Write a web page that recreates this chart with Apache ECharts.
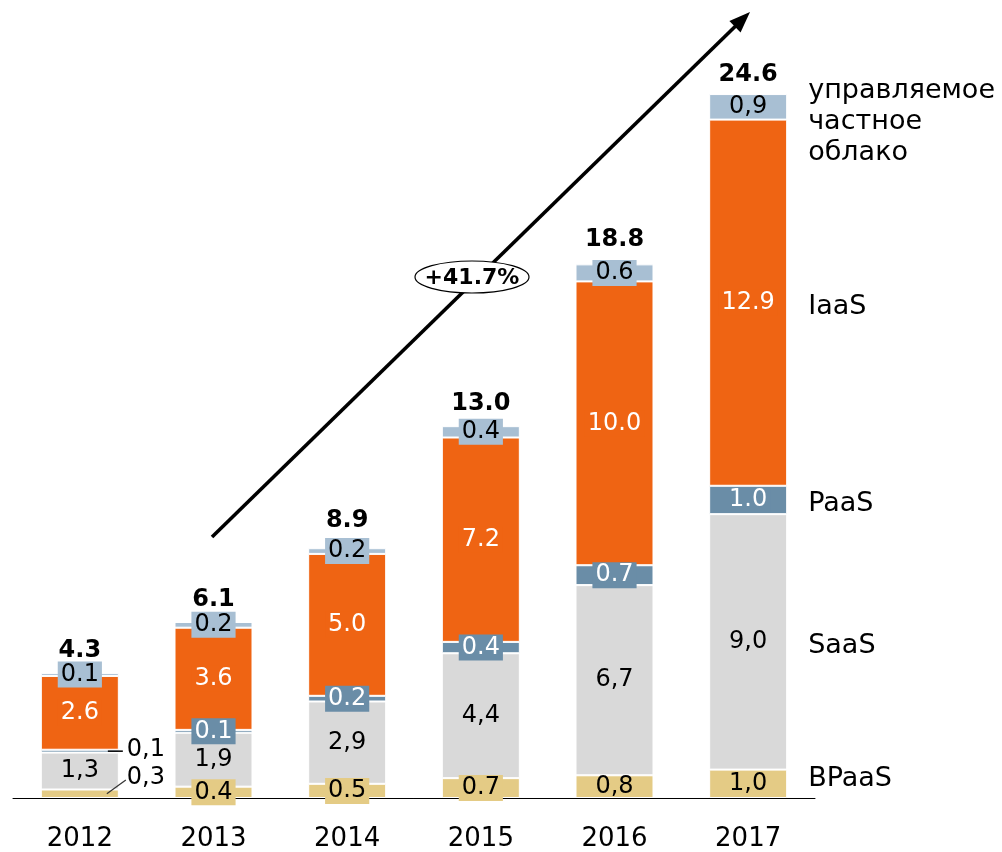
<!DOCTYPE html>
<html>
<head>
<meta charset="utf-8">
<script src="https://cdn.jsdelivr.net/npm/echarts@6/dist/echarts.min.js"></script>
<style>
  html, body { margin: 0; padding: 0; background: #fff; }
  #main { width: 1002px; height: 852px; }
</style>
</head>
<body>
<div id="main"></div>
<script>
var FONT = '"DejaVu Sans", "Liberation Sans", Arial, sans-serif';

var years = ['2012', '2013', '2014', '2015', '2016', '2017'];
var bpaas = [0.3, 0.4, 0.5, 0.7, 0.8, 1.0];
var saas = [1.3, 1.9, 2.9, 4.4, 6.7, 9.0];
var paas = [0.1, 0.1, 0.2, 0.4, 0.7, 1.0];
var iaas = [2.6, 3.6, 5.0, 7.2, 10.0, 12.9];
var managed = [0.1, 0.2, 0.2, 0.4, 0.6, 0.9];
var totals = [4.3, 6.1, 8.9, 13.0, 18.8, 24.6];

// labels as printed on the slide (decimal separator is mixed there)
var bpaasText = ['0,3', '0.4', '0.5', '0.7', '0,8', '1,0'];
var saasText = ['1,3', '1,9', '2,9', '4,4', '6,7', '9,0'];
var paasText = ['0,1', '0.1', '0.2', '0.4', '0.7', '1.0'];
var iaasText = ['2.6', '3.6', '5.0', '7.2', '10.0', '12.9'];
var managedText = ['0.1', '0.2', '0.2', '0.4', '0.6', '0,9'];
var totalText = ['4.3', '6.1', '8.9', '13.0', '18.8', '24.6'];
var growthText = '+41.7%';

var names = ['BPaaS', 'SaaS', 'PaaS', 'IaaS', 'управляемое\nчастное\nоблако'];
var colors = ['#e4cb85', '#d9d9d9', '#6a8da7', '#ef6413', '#a8bfd3'];
var textColors = ['#000', '#000', '#fff', '#fff', '#000'];

function makeItems(values, texts, color) {
  return values.map(function (v, i) {
    // the slide only boxes the labels written with a dot
    var boxed = texts[i].indexOf('.') >= 0;
    return {
      value: v,
      label: { formatter: texts[i], backgroundColor: boxed ? color : 'transparent' }
    };
  });
}

var valueSets = [bpaas, saas, paas, iaas, managed];
var textSets = [bpaasText, saasText, paasText, iaasText, managedText];

var series = valueSets.map(function (vals, k) {
  return {
    name: names[k],
    type: 'bar',
    stack: 'total',
    barWidth: 78,
    itemStyle: { color: colors[k], borderColor: '#fff', borderWidth: 1 },
    label: {
      show: true,
      position: 'inside',
      color: textColors[k],
      fontFamily: FONT,
      fontSize: 24,
      lineHeight: 23,
      padding: [2, 3, 1, 3]
    },
    data: makeItems(vals, textSets[k], colors[k])
  };
});

// 2012: the two thin segments are labelled outside the bar
series[0].data[0].label = {
  formatter: bpaasText[0], position: 'right', distance: 8, offset: [0, -16],
  backgroundColor: 'transparent', padding: 0, color: '#000'
};
series[2].data[0].label = {
  formatter: paasText[0], position: 'right', distance: 8, offset: [0, -1],
  backgroundColor: 'transparent', padding: 0, color: '#000'
};

// totals above the bars
series.push({
  type: 'scatter',
  silent: true,
  symbolSize: 0,
  itemStyle: { color: '#000', opacity: 1 },
  label: {
    show: true,
    position: 'top',
    distance: 13,
    fontFamily: FONT,
    fontSize: 24,
    fontWeight: 'bold',
    color: '#000',
    formatter: function (p) { return totalText[p.dataIndex]; }
  },
  z: 5,
  data: totals
});

var chart = echarts.init(document.getElementById('main'));
chart.setOption({
  animation: false,
  grid: { left: 13, right: 187, top: 60, bottom: 52 },
  xAxis: {
    type: 'category',
    data: years,
    axisTick: { show: false },
    axisLine: { lineStyle: { color: '#000', width: 1 } },
    axisLabel: { color: '#000', fontFamily: FONT, fontSize: 26, margin: 28 }
  },
  yAxis: { type: 'value', min: 0, max: 26, show: false, splitLine: { show: false } },
  series: series
});

// side labels next to the 2017 bar, leader lines of 2012, trend arrow, growth bubble
var last = years.length - 1;
var graphics = [];
var cum = 0;
var offs = [-5, 4, 4, 4, 0];
for (var k = 0; k < valueSets.length; k++) {
  var lo = cum, hi = cum + valueSets[k][last];
  cum = hi;
  var pLo = chart.convertToPixel({ gridIndex: 0 }, [last, lo]);
  var pHi = chart.convertToPixel({ gridIndex: 0 }, [last, hi]);
  var isTop = k === valueSets.length - 1;
  graphics.push({
    type: 'text',
    x: pLo[0] + 39 + 21,
    y: isTop ? pHi[1] - 19 : (pLo[1] + pHi[1]) / 2 + offs[k],
    style: {
      text: names[k],
      fill: '#000',
      font: '27px ' + FONT,
      lineHeight: 31,
      align: 'left',
      verticalAlign: isTop ? 'top' : 'middle'
    }
  });
}

var b0 = chart.convertToPixel({ gridIndex: 0 }, [0, 0]);
var bTop = chart.convertToPixel({ gridIndex: 0 }, [0, bpaas[0]]);
var pMid = chart.convertToPixel({ gridIndex: 0 }, [0, bpaas[0] + saas[0] + paas[0] / 2]);
var right0 = b0[0] + 39;
graphics.push({
  type: 'line', shape: { x1: right0 - 11, y1: pMid[1], x2: right0 + 4, y2: pMid[1] },
  style: { stroke: '#000', lineWidth: 1.5 }, z: 10
});
graphics.push({
  type: 'line', shape: { x1: right0 - 12, y1: (b0[1] + bTop[1]) / 2, x2: right0 + 7, y2: b0[1] - 18 },
  style: { stroke: '#333', lineWidth: 1.2 }, z: 10
});

// arrow
var ax1 = 212, ay1 = 537, ax2 = 750, ay2 = 12;
var dx = ax2 - ax1, dy = ay2 - ay1, len = Math.sqrt(dx * dx + dy * dy);
var ux = dx / len, uy = dy / len;
var headLen = 21, headHalf = 8;
var bx = ax2 - ux * headLen, by = ay2 - uy * headLen;
graphics.push({
  type: 'line', shape: { x1: ax1, y1: ay1, x2: bx + ux * 2, y2: by + uy * 2 },
  style: { stroke: '#000', lineWidth: 3.6 }, z: 10
});
graphics.push({
  type: 'polygon',
  shape: { points: [[ax2, ay2], [bx - uy * headHalf, by + ux * headHalf], [bx + uy * headHalf, by - ux * headHalf]] },
  style: { fill: '#000' }, z: 10
});

graphics.push({
  type: 'ellipse', shape: { cx: 472, cy: 277, rx: 57, ry: 16 },
  style: { fill: '#fff', stroke: '#000', lineWidth: 1.2 }, z: 20
});
graphics.push({
  type: 'text', x: 472, y: 278,
  style: { text: growthText, fill: '#000', font: 'bold 22px ' + FONT, align: 'center', verticalAlign: 'middle' },
  z: 21
});

chart.setOption({ graphic: graphics });
window.addEventListener('resize', function () { chart.resize(); });
</script>
</body>
</html>
